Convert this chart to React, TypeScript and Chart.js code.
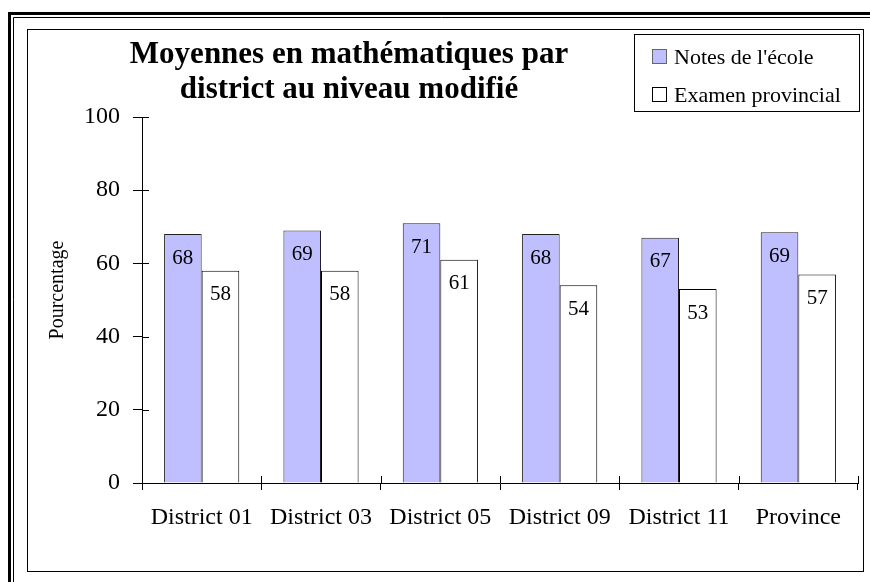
import { useEffect, useRef } from 'react';
import { Chart, registerables } from 'chart.js';

Chart.register(...registerables);

const categories = ['District 01', 'District 03', 'District 05', 'District 09', 'District 11', 'Province'];
const schoolScores = [68, 69, 71, 68, 67, 68.5];
const provincialScores = [58, 58, 61, 54, 53, 57];
const seriesNames = ["Notes de l'école", 'Examen provincial'];
const titleLines = ['Moyennes en mathématiques par', 'district au niveau modifié'];
const yAxisTitle = 'Pourcentage';
const yMin = 0;
const yMax = 100;
const yStep = 20;

const SERIF = '"Liberation Serif", "Times New Roman", Times, serif';
const BLUE = '#BFBFFF';

const decorPlugin = {
  id: 'decor',
  beforeDraw(chart: any) {
    const ctx = chart.ctx;
    const W = chart.width;
    const H = chart.height;
    ctx.save();
    ctx.fillStyle = '#ffffff';
    ctx.fillRect(0, 0, W, H);
    ctx.strokeStyle = '#000';
    ctx.lineWidth = 3;
    ctx.beginPath();
    ctx.moveTo(9.5, H);
    ctx.lineTo(9.5, 13.5);
    ctx.lineTo(W, 13.5);
    ctx.stroke();
    ctx.lineWidth = 1;
    ctx.beginPath();
    ctx.moveTo(13.5, H);
    ctx.lineTo(13.5, 17.5);
    ctx.lineTo(W, 17.5);
    ctx.stroke();
    ctx.strokeRect(27.5, 29.5, 836, 542);
    ctx.restore();
  },
  afterDraw(chart: any) {
    const ctx = chart.ctx;
    const area = chart.chartArea;
    const xs = chart.scales.x;
    const ys = chart.scales.y;
    ctx.save();
    ctx.strokeStyle = '#000';
    ctx.lineWidth = 1;
    // inner half of the crossing tick marks
    ctx.beginPath();
    ys.ticks.forEach((_t: any, i: number) => {
      const y = Math.round(ys.getPixelForTick(i)) + 0.5;
      ctx.moveTo(area.left, y);
      ctx.lineTo(area.left + 7, y);
    });
    const n = categories.length;
    for (let i = 0; i <= n; i++) {
      const x = Math.round(xs.left + (i * xs.width) / n) + 0.5;
      ctx.moveTo(x, area.bottom);
      ctx.lineTo(x, area.bottom - 7);
    }
    ctx.stroke();

    // value labels inside bars
    ctx.fillStyle = '#000';
    ctx.font = `21px ${SERIF}`;
    ctx.textAlign = 'center';
    ctx.textBaseline = 'middle';
    chart.data.datasets.forEach((ds: any, di: number) => {
      const meta = chart.getDatasetMeta(di);
      meta.data.forEach((bar: any, i: number) => {
        ctx.fillText(String(Math.round(ds.data[i])), bar.x, bar.y + 24);
      });
    });

    // title
    ctx.font = `bold 31px ${SERIF}`;
    ctx.textBaseline = 'alphabetic';
    ctx.fillText(titleLines[0], 349, 63);
    ctx.fillText(titleLines[1], 349, 98);

    // y axis title
    ctx.save();
    ctx.translate(58, 290);
    ctx.rotate(-Math.PI / 2);
    ctx.font = `20px ${SERIF}`;
    ctx.textBaseline = 'middle';
    ctx.fillText(yAxisTitle, 0, 0);
    ctx.restore();

    // legend
    ctx.strokeRect(634.5, 34.5, 225, 77);
    const swatchFill = [BLUE, '#ffffff'];
    const rowsY = [49, 87];
    ctx.font = `22px ${SERIF}`;
    ctx.textAlign = 'left';
    ctx.textBaseline = 'alphabetic';
    seriesNames.forEach((name, i) => {
      ctx.fillStyle = swatchFill[i];
      ctx.fillRect(652, rowsY[i], 15, 15);
      ctx.strokeStyle = i === 0 ? '#666' : '#000';
      ctx.strokeRect(652.5, rowsY[i] + 0.5, 14, 14);
      ctx.fillStyle = '#000';
      ctx.fillText(name, 674, rowsY[i] + 15);
    });
    ctx.restore();
  },
};

export default function App() {
  const ref = useRef<HTMLCanvasElement | null>(null);
  useEffect(() => {
    if (!ref.current) return;
    const chart = new Chart(ref.current, {
      type: 'bar',
      data: {
        labels: categories,
        datasets: [
          {
            label: seriesNames[0],
            data: schoolScores,
            backgroundColor: BLUE,
            borderColor: '#222',
            borderWidth: 1,
          },
          {
            label: seriesNames[1],
            data: provincialScores,
            backgroundColor: '#ffffff',
            borderColor: '#000',
            borderWidth: 1,
          },
        ],
      },
      options: {
        responsive: false,
        animation: false,
        devicePixelRatio: 1,
        layout: { padding: { left: 40, right: 12, top: 117, bottom: 39 } },
        plugins: {
          legend: { display: false },
          title: { display: false },
          tooltip: { enabled: false },
        },
        datasets: { bar: { categoryPercentage: 0.63, barPercentage: 1 } },
        scales: {
          x: {
            grid: { display: true, drawOnChartArea: false, drawTicks: true, tickLength: 7, color: '#000', offset: true },
            border: { display: true, color: '#000', width: 1 },
            ticks: { color: '#000', font: { family: SERIF, size: 24 }, padding: 13, autoSkip: false, maxRotation: 0 },
            afterFit: (s: any) => { s.height = 60; },
          },
          y: {
            min: yMin,
            max: yMax,
            grid: { display: true, drawOnChartArea: false, drawTicks: true, tickLength: 9, color: '#000' },
            border: { display: true, color: '#000', width: 1 },
            ticks: { stepSize: yStep, color: '#000', font: { family: SERIF, size: 24 }, padding: 13 },
            afterFit: (s: any) => { s.width = 102; },
          },
        },
      },
      plugins: [decorPlugin],
    } as any);
    return () => chart.destroy();
  }, []);
  return (
    <div style={{ position: 'absolute', left: 0, top: 0, width: 870, height: 582 }}>
      <canvas ref={ref} width={870} height={582} style={{ display: 'block' }} />
    </div>
  );
}
